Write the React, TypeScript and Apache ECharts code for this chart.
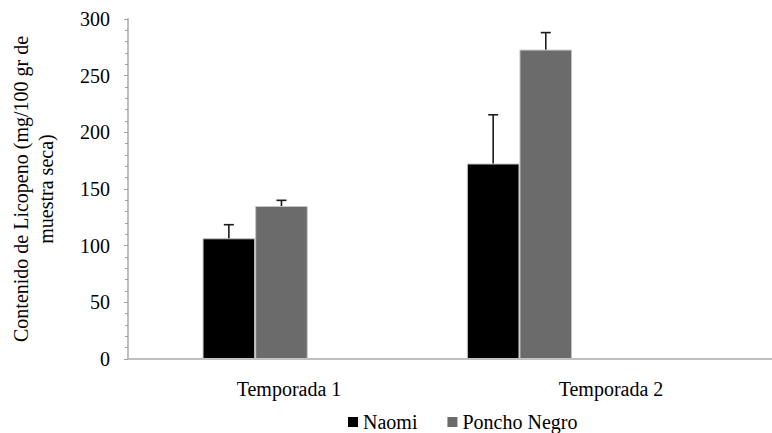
import React, { useEffect, useRef } from "react";
import * as echarts from "echarts";

const categories = ["Temporada 1", "Temporada 2"];
const naomi = [106.5, 172.5];
const naomiErr = [12, 43];
const poncho = [135, 273];
const ponchoErr = [5, 15];
const yMin = 0;
const yMax = 300;
const yInterval = 50;

const FONT = "'Liberation Serif', 'Times New Roman', serif";
const BAR_W = 52.6;

function errorSeries(name: string, values: number[], errs: number[], offset: number) {
  return {
    type: "custom",
    name,
    xAxisIndex: 1,
    yAxisIndex: 1,
    silent: true,
    z: 5,
    data: values.map((v, i) => [i, v, errs[i]]),
    renderItem: (params: any, api: any) => {
      const idx = api.value(0);
      const v = api.value(1);
      const e = api.value(2);
      const base = api.coord([idx, v]);
      const top = api.coord([idx, v + e]);
      const x = base[0] + offset;
      const cap = 5;
      const style = { stroke: "#1a1a1a", lineWidth: 1.6 };
      return {
        type: "group",
        children: [
          { type: "line", shape: { x1: x, y1: base[1], x2: x, y2: top[1] }, style },
          { type: "line", shape: { x1: x - cap, y1: top[1], x2: x + cap, y2: top[1] }, style },
        ],
      };
    },
  };
}

export default function App() {
  const ref = useRef<HTMLDivElement>(null);
  useEffect(() => {
    if (!ref.current) return;
    const chart = echarts.init(ref.current, undefined, { renderer: "svg" });
    const axisColor = "#bfbfbf";
    chart.setOption({
      animation: false,
      backgroundColor: "#ffffff",
      textStyle: { fontFamily: FONT, color: "#000" },
      grid: [
        { left: 123, top: 19, bottom: 74, right: -27 },
        { left: 123, top: 19, bottom: 74, width: BAR_W * 2 * 5.025 },
      ],
      legend: {
        data: ["Naomi", "Poncho Negro"],
        left: 348,
        top: 412,
        padding: 0,
        icon: "rect",
        itemWidth: 10,
        itemHeight: 10,
        itemGap: 30,
        textStyle: { fontFamily: FONT, fontSize: 20, color: "#000" },
        itemStyle: { borderWidth: 0 },
      },
      xAxis: [
        {
          type: "category",
          gridIndex: 0,
          data: categories,
          axisLine: { lineStyle: { color: axisColor, width: 2 } },
          axisTick: { show: false },
          axisLabel: { fontFamily: FONT, fontSize: 20, color: "#000", margin: 20 },
        },
        {
          type: "category",
          gridIndex: 1,
          data: categories,
          show: false,
        },
      ],
      yAxis: [
        {
          type: "value",
          gridIndex: 0,
          min: yMin,
          max: yMax,
          interval: yInterval,
          name: "Contenido de Licopeno (mg/100 gr de\nmuestra seca)",
          nameLocation: "middle",
          nameGap: 70,
          nameTextStyle: { fontFamily: FONT, fontSize: 20, color: "#000", lineHeight: 25 },
          axisLine: { show: true, lineStyle: { color: axisColor, width: 2 } },
          axisTick: { show: true, length: 4, lineStyle: { color: "#a0a0a0", width: 1 } },
          minorTick: { show: true, splitNumber: 5, length: 3, lineStyle: { color: "#a0a0a0", width: 1 } },
          splitLine: { show: false },
          axisLabel: { fontFamily: FONT, fontSize: 20, color: "#000", margin: 18 },
        },
        {
          type: "value",
          gridIndex: 1,
          min: yMin,
          max: yMax,
          interval: yInterval,
          show: false,
          splitLine: { show: false },
        },
      ],
      series: [
        {
          type: "bar",
          name: "Naomi",
          xAxisIndex: 1,
          yAxisIndex: 1,
          data: naomi,
          barWidth: BAR_W,
          barGap: "0%",
          itemStyle: { color: "#000000", borderColor: "#c4c4c4", borderWidth: 1 },
        },
        {
          type: "bar",
          name: "Poncho Negro",
          xAxisIndex: 1,
          yAxisIndex: 1,
          data: poncho,
          barWidth: BAR_W,
          barGap: "0%",
          itemStyle: { color: "#6b6b6b", borderColor: "#c4c4c4", borderWidth: 1 },
        },
        errorSeries("Naomi err", naomi, naomiErr, -BAR_W / 2),
        errorSeries("Poncho err", poncho, ponchoErr, BAR_W / 2),
      ],
    });
    return () => chart.dispose();
  }, []);
  return (
    <div
      ref={ref}
      style={{ position: "absolute", left: 0, top: 0, width: 772, height: 433 }}
    />
  );
}
